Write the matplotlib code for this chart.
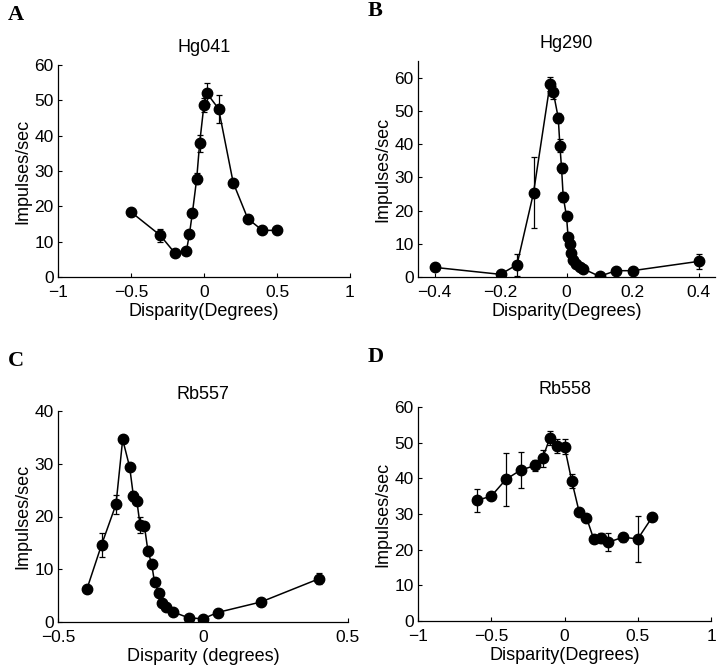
import matplotlib
matplotlib.use("Agg")
import matplotlib.pyplot as plt

plt.rcParams['font.family'] = ['Liberation Sans', 'DejaVu Sans']

# Panel A: Hg041
a_x = [-0.5, -0.3, -0.2, -0.12, -0.1, -0.08, -0.05, -0.03, 0.0, 0.02, 0.1, 0.2, 0.3, 0.4, 0.5]
a_y = [18.4, 11.8, 6.8, 7.5, 12.1, 18.0, 27.8, 37.8, 48.8, 52.0, 47.6, 26.7, 16.5, 13.2, 13.2]
a_e = [0.6, 1.9, 0.6, 0.6, 0.8, 0.8, 1.5, 2.5, 2.0, 3.0, 4.0, 1.0, 1.0, 0.6, 0.6]

# Panel B: Hg290
b_x = [-0.4, -0.2, -0.15, -0.1, -0.05, -0.04, -0.025, -0.02, -0.015, -0.01, 0.0,
       0.005, 0.01, 0.015, 0.02, 0.03, 0.04, 0.05, 0.1, 0.15, 0.2, 0.4]
b_y = [2.9, 0.8, 3.7, 25.3, 58.1, 55.6, 47.9, 39.5, 32.8, 24.2, 18.3,
       11.9, 9.8, 7.3, 5.2, 3.9, 3.0, 2.5, 0.2, 1.9, 1.9, 4.7]
b_e = [0.5, 0.5, 3.3, 10.7, 2.0, 2.0, 1.5, 2.0, 1.5, 1.5, 0.8,
       0.8, 0.6, 0.6, 0.5, 0.5, 0.5, 0.5, 0.4, 0.4, 0.4, 2.2]

# Panel C: Rb557
c_x = [-0.4, -0.35, -0.3, -0.277, -0.253, -0.24, -0.228, -0.217, -0.202, -0.19,
       -0.177, -0.167, -0.153, -0.14, -0.129, -0.103, -0.05, 0.0, 0.05, 0.2, 0.4]
c_y = [6.3, 14.6, 22.3, 34.6, 29.4, 23.9, 22.9, 18.4, 18.2, 13.5,
       11.0, 7.5, 5.5, 3.6, 2.9, 1.9, 0.8, 0.6, 1.8, 3.8, 8.2]
c_e = [0.4, 2.3, 1.8, 0.6, 0.6, 1.0, 0.8, 1.5, 0.6, 0.5,
       0.5, 0.4, 0.4, 0.4, 0.3, 0.3, 0.3, 0.3, 0.3, 0.4, 1.0]

# Panel D: Rb558
d_x = [-0.6, -0.5, -0.4, -0.3, -0.2, -0.15, -0.1, -0.05, 0.0, 0.05, 0.1, 0.15,
       0.2, 0.25, 0.3, 0.4, 0.5, 0.6]
d_y = [33.8, 35.0, 39.7, 42.3, 43.6, 45.6, 51.3, 49.0, 48.9, 39.2, 30.6, 29.0,
       22.9, 23.3, 22.1, 23.5, 23.0, 29.2]
d_e = [3.3, 0.6, 7.5, 5.0, 1.5, 2.3, 2.0, 2.0, 2.0, 2.0, 0.6, 0.6,
       0.6, 1.5, 2.5, 1.3, 6.5, 0.6]

panels = [
    dict(letter='A', title='Hg041', x=a_x, y=a_y, e=a_e, xlim=(-1, 1), ylim=(0, 60),
         xticks=[-1, -0.5, 0, 0.5, 1], xtl=['\u22121', '\u22120.5', '0', '0.5', '1'],
         yticks=[0, 10, 20, 30, 40, 50, 60], xlabel='Disparity(Degrees)',
         pos=[58, 65, 350, 277]),
    dict(letter='B', title='Hg290', x=b_x, y=b_y, e=b_e, xlim=(-0.45, 0.45), ylim=(0, 65),
         xticks=[-0.4, -0.2, 0, 0.2, 0.4], xtl=['\u22120.4', '\u22120.2', '0', '0.2', '0.4'],
         yticks=[0, 10, 20, 30, 40, 50, 60], xlabel='Disparity(Degrees)',
         pos=[418, 61, 715, 277]),
    dict(letter='C', title='Rb557', x=c_x, y=c_y, e=c_e, xlim=(-0.5, 0.5), ylim=(0, 40),
         xticks=[-0.5, 0, 0.5], xtl=['\u22120.5', '0', '0.5'],
         yticks=[0, 10, 20, 30, 40], xlabel='Disparity (degrees)',
         pos=[58, 411, 348, 622]),
    dict(letter='D', title='Rb558', x=d_x, y=d_y, e=d_e, xlim=(-1, 1), ylim=(0, 60),
         xticks=[-1, -0.5, 0, 0.5, 1], xtl=['\u22121', '\u22120.5', '0', '0.5', '1'],
         yticks=[0, 10, 20, 30, 40, 50, 60], xlabel='Disparity(Degrees)',
         pos=[418, 407, 711, 621]),
]

W, H = 720, 670
fig = plt.figure(figsize=(W / 100, H / 100), dpi=100)

for p in panels:
    l, t, r, b = p['pos']
    ax = fig.add_axes([l / W, 1 - b / H, (r - l) / W, (b - t) / H])
    ax.errorbar(p['x'], p['y'], yerr=p['e'], color='black', marker='o', markersize=7.5,
                linewidth=1.1, elinewidth=0.9, capsize=2.2, capthick=0.9)
    ax.set_xlim(*p['xlim'])
    ax.set_ylim(*p['ylim'])
    ax.set_xticks(p['xticks'])
    ax.set_xticklabels(p['xtl'])
    ax.set_yticks(p['yticks'])
    ax.spines['top'].set_visible(False)
    ax.spines['right'].set_visible(False)
    ax.spines['left'].set_linewidth(0.9)
    ax.spines['bottom'].set_linewidth(0.9)
    ax.tick_params(direction='in', length=3, width=0.8, labelsize=12.5)
    ax.tick_params(axis='x', pad=6)
    ax.tick_params(axis='y', pad=3)
    ax.set_title(p['title'], fontsize=13, pad=9)
    ax.set_xlabel(p['xlabel'], fontsize=13, labelpad=2)
    ax.set_ylabel('Impulses/sec', fontsize=13, labelpad=2)
    fig.text((l - 50) / W, 1 - (t - 50) / H, p['letter'], fontsize=16, fontweight='bold',
             family='Liberation Serif', va='center', ha='left')

fig.savefig('out.png', dpi=100)
